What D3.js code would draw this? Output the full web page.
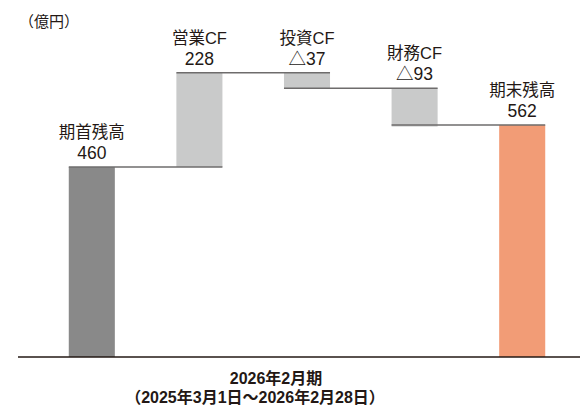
<!DOCTYPE html>
<meta charset="utf-8">
<style>
body { margin: 0; background: #fff; }
text { font-family: "Liberation Sans", "Noto Sans CJK JP", sans-serif; fill: #231815; }
</style>
<svg id="mysvg" width="580" height="406"></svg>
<script src="https://cdn.jsdelivr.net/npm/d3@7/dist/d3.min.js"></script>
<script>

var categories = ["期首残高", "営業CF", "投資CF", "財務CF", "期末残高"];
var values = [460, 228, -37, -93, 562];
var valueLabels = ["460", "228", "△37", "△93", "562"];
var kinds = ["total", "step", "step", "step", "total"];

var svg = d3.select("#mysvg");
var baseY = 357;

var x = d3.scaleBand()
	.domain(categories)
	.range([38, 576])
	.paddingInner(0.572)
	.paddingOuter(0.286);

var y = d3.scaleLinear()
	.domain([0, 700])
	.range([baseY, baseY - 700 * 0.413]);

// running totals
var bars = [];
var run = 0;
values.forEach(function(v, i){
	var b = { name: categories[i], label: valueLabels[i], kind: kinds[i] };
	if (kinds[i] == "total") {
		b.y0 = 0; b.y1 = v; run = v;
	} else {
		b.y0 = run; b.y1 = run + v; run = run + v;
	}
	b.top = Math.max(b.y0, b.y1);
	bars.push(b);
});
// connector level: end of bar, or the next total if one follows
bars.forEach(function(b, i){
	var nxt = bars[i + 1];
	b.level = (nxt && nxt.kind == "total") ? nxt.y1 : b.y1;
});

var colors = { total0: "#898989", step: "#c9caca", total1: "#f29c76" };

svg.selectAll("rect.bar")
	.data(bars)
	.enter().append("rect")
	.attr("class", "bar")
	.attr("x", function(d){ return x(d.name); })
	.attr("width", x.bandwidth())
	.attr("y", function(d){ return y(d.top); })
	.attr("height", function(d){ return Math.abs(y(d.y0) - y(d.y1)); })
	.attr("fill", function(d, i){
		if (d.kind == "step") return colors.step;
		return i == 0 ? colors.total0 : colors.total1;
	});

// connector lines: from bar i left to bar i+1 right
svg.selectAll("line.conn")
	.data(bars.slice(0, -1))
	.enter().append("line")
	.attr("class", "conn")
	.attr("x1", function(d){ return x(d.name); })
	.attr("x2", function(d, i){ return x(bars[i + 1].name) + x.bandwidth(); })
	.attr("y1", function(d){ return y(d.level); })
	.attr("y2", function(d){ return y(d.level); })
	.attr("stroke", "#6e6c6c")
	.attr("stroke-width", 1.5);

// labels
var lab = svg.selectAll("g.lab")
	.data(bars)
	.enter().append("g")
	.attr("class", "lab")
	.attr("transform", function(d){
		return "translate(" + (x(d.name) + x.bandwidth() / 2) + "," + y(d.top) + ")";
	});

lab.append("text")
	.attr("y", -29)
	.attr("text-anchor", "middle")
	.style("font-size", "16.5px")
	.text(function(d){ return d.name; });

lab.append("text")
	.attr("y", -8)
	.attr("text-anchor", "middle")
	.style("font-size", "17.5px")
	.text(function(d){ return d.label; });

// baseline
svg.append("line")
	.attr("x1", 18).attr("x2", 580)
	.attr("y1", y(0)).attr("y2", y(0))
	.attr("stroke", "#231815")
	.attr("stroke-width", 1.5);

svg.append("text")
	.attr("x", 19).attr("y", 27)
	.style("font-size", "15px")
	.text("（億円）");

svg.append("text")
	.attr("x", 276).attr("y", 384)
	.attr("text-anchor", "middle")
	.style("font-size", "16px")
	.style("font-weight", "bold")
	.text("2026年2月期");

svg.append("text")
	.attr("x", 255).attr("y", 403)
	.attr("text-anchor", "middle")
	.style("font-size", "16px")
	.style("font-weight", "bold")
	.text("（2025年3月1日～2026年2月28日）");

</script>
